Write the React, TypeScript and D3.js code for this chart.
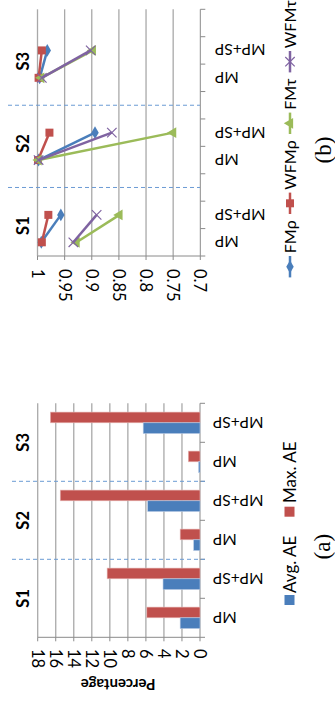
import React from 'react';
import * as d3 from 'd3';

// shared categories
const groups = ['S1', 'S2', 'S3'];
const methods = ['MP', 'MP+SP'];

// chart (a): absolute error, percentage
const avgAE = [2.2, 4.1, 0.7, 5.8, 0.15, 6.3];
const maxAE = [5.9, 10.3, 2.2, 15.5, 1.3, 16.6];
const aTicks = [0, 2, 4, 6, 8, 10, 12, 14, 16, 18];

// chart (b): correlation per series
const seriesNames = ['FMρ', 'WFMρ', 'FMτ', 'WFMτ'];
const fmRho = [0.993, 0.957, 0.998, 0.894, 0.996, 0.982];
const wfmRho = [0.992, 0.98, 0.999, 0.978, 0.998, 0.992];
const fmTau = [0.928, 0.849, 0.998, 0.75, 0.993, 0.898];
const wfmTau = [0.934, 0.891, 0.998, 0.863, 0.992, 0.902];
const bTicks = [1, 0.95, 0.9, 0.85, 0.8, 0.75, 0.7];

const FONT = "Lato, 'Open Sans', sans-serif";
const GRID = '#a9a9a9';
const AXIS = '#8a8a8a';
const DASH = '#6b9bd4';
const colors = ['#4a7ebb', '#c0504d', '#9bbb59', '#7f63a1'];
const symbols = [d3.symbolDiamond, d3.symbolSquare, d3.symbolTriangle, d3.symbolCross];

const aKeys = groups.flatMap(g => methods.map(m => g + '|' + m));
const bKeys = groups.flatMap(g => [...methods.map(m => g + '|' + m), g + '|gap']);

function ChartA() {
  const x = d3.scaleLinear().domain([0, 18]).range([200, 37.7]);
  const y = d3.scaleBand().domain(aKeys).range([637.3, 403.3]);
  const sub = d3.scaleBand().domain(['max', 'avg']).range([0, y.bandwidth()]).paddingOuter(0.82);
  const bottom = 637.3, top = 403.3;
  const boundaries = [...aKeys.map(k => y(k)!), bottom];
  return (
    <g>
      {aTicks.map(t => (
        <g key={t}>
          {t > 0 && <line x1={x(t)} x2={x(t)} y1={top} y2={bottom} stroke={GRID} strokeWidth={1.3} />}
          <line x1={x(t)} x2={x(t)} y1={bottom} y2={bottom + 4} stroke={AXIS} />
          <text transform={`rotate(90, ${x(t)}, 649)`} x={x(t)} y={649} fontSize={16.5}
            fontFamily={FONT} dominantBaseline="central" fill="#000">{t}</text>
        </g>
      ))}
      <line x1={37.7} x2={200} y1={bottom} y2={bottom} stroke={AXIS} />
      <line x1={200} x2={200} y1={top} y2={bottom} stroke={AXIS} />
      {boundaries.map((b, i) => (
        <line key={i} x1={200} x2={205} y1={b} y2={b} stroke={AXIS} />
      ))}
      {aKeys.map((k, i) => (
        <g key={k}>
          <rect x={x(maxAE[i])} y={y(k)! + sub('max')!} width={x(0) - x(maxAE[i])} height={sub.bandwidth()}
            fill={colors[1]} stroke="#e8b8b7" strokeWidth={0.6} />
          <rect x={x(avgAE[i])} y={y(k)! + sub('avg')!} width={x(0) - x(avgAE[i])} height={sub.bandwidth()}
            fill={colors[0]} stroke="#b5c8e3" strokeWidth={0.6} />
          <text transform={`rotate(180, 213, ${y(k)! + y.bandwidth() / 2})`} x={213} y={y(k)! + y.bandwidth() / 2}
            textAnchor="end" dominantBaseline="central" fontSize={15.5} fontFamily={FONT}>{k.split('|')[1]}</text>
        </g>
      ))}
      {[1, 2].map(g => (
        <line key={g} x1={12} x2={205} y1={y(groups[g] + '|MP')! + y.bandwidth()} y2={y(groups[g] + '|MP')! + y.bandwidth()}
          stroke={DASH} strokeDasharray="4,3" />
      ))}
      {groups.map(g => {
        const cy = y(g + '|MP')!;
        return (
          <text key={g} transform={`rotate(-90, 22.7, ${cy})`} x={22.7} y={cy} textAnchor="middle"
            dominantBaseline="central" fontSize={16.5} fontWeight="bold" fontFamily={FONT}>{g}</text>
        );
      })}
      <text transform="rotate(180, 118, 685)" x={118} y={685} textAnchor="middle" dominantBaseline="central"
        fontSize={15} fontWeight="bold" fontFamily={FONT}>Percentage</text>
      {/* legend */}
      <rect x={284.5} y={595} width={10} height={10} fill={colors[0]} />
      <text transform="rotate(-90, 289, 593)" x={289} y={593} dominantBaseline="central" fontSize={17} fontFamily={FONT}>Avg. AE</text>
      <rect x={284.5} y={506.7} width={10} height={10} fill={colors[1]} />
      <text transform="rotate(-90, 289, 503)" x={289} y={503} dominantBaseline="central" fontSize={17} fontFamily={FONT}>Max. AE</text>
      <text transform="rotate(-90, 323, 546.7)" x={323} y={546.7} textAnchor="middle" dominantBaseline="central"
        fontSize={23} fontFamily="'Liberation Serif', serif">(a)</text>
    </g>
  );
}

function Marker({ i, cx, cy, size }: { i: number; cx: number; cy: number; size: number }) {
  const sym = i === 3 ? d3.symbol(d3.symbolX, size) : d3.symbol(symbols[i], size);
  const rot = i === 2 ? -90 : 0;
  return (
    <path d={sym()!} transform={`translate(${cx},${cy}) rotate(${rot})`}
      fill={i === 3 ? 'none' : colors[i]} stroke={colors[i]} strokeWidth={i === 3 ? 1.2 : 0} />
  );
}

function ChartB() {
  const x = d3.scaleLinear().domain([0.7, 1]).range([200.3, 37.5]);
  const y = d3.scaleBand().domain(bKeys).range([256, 9.3]);
  const bottom = 256, top = 9.3;
  const series = [fmRho, wfmRho, fmTau, wfmTau];
  const sizes = [48, 64, 50, 60];
  const cy = (k: string) => y(k)! + y.bandwidth() / 2;
  const line = d3.line<[number, number]>().x(d => d[0]).y(d => d[1]);
  const boundaries = [...bKeys.map(k => y(k)!), bottom];
  const legendY = [266.7, 203.3, 123.3, 61.7];
  return (
    <g>
      {bTicks.map(t => (
        <g key={t}>
          {t > 0.7 && <line x1={x(t)} x2={x(t)} y1={top} y2={bottom} stroke={GRID} strokeWidth={1.3} />}
          <line x1={x(t)} x2={x(t)} y1={bottom} y2={bottom + 4} stroke={AXIS} />
          <text transform={`rotate(90, ${x(t)}, 269)`} x={x(t)} y={269} fontSize={16.5}
            fontFamily={FONT} dominantBaseline="central">{t}</text>
        </g>
      ))}
      <line x1={37.5} x2={200.3} y1={bottom} y2={bottom} stroke={AXIS} />
      <line x1={200.3} x2={200.3} y1={top} y2={bottom} stroke={AXIS} />
      {boundaries.map((b, i) => (
        <line key={i} x1={200.3} x2={205.3} y1={b} y2={b} stroke={AXIS} />
      ))}
      {groups.slice(0, 2).map(g => (
        <line key={g} x1={8} x2={200} y1={cy(g + '|gap')} y2={cy(g + '|gap')} stroke={DASH} strokeDasharray="4,3" />
      ))}
      {aKeys.map(k => (
        <text key={k} transform={`rotate(180, 215, ${cy(k)})`} x={215} y={cy(k)} textAnchor="end"
          dominantBaseline="central" fontSize={15.5} fontFamily={FONT}>{k.split('|')[1]}</text>
      ))}
      {series.map((vals, si) => (
        <g key={si}>
          {groups.map((g, gi) => {
            const pts: [number, number][] = methods.map((m, mi) => [x(vals[gi * 2 + mi]), cy(g + '|' + m)]);
            return (
              <g key={g}>
                <path d={line(pts)!} fill="none" stroke={colors[si]} strokeWidth={2.5} />
                {pts.map((p, pi) => <Marker key={pi} i={si} cx={p[0]} cy={p[1]} size={sizes[si]} />)}
              </g>
            );
          })}
        </g>
      ))}
      {groups.map(g => {
        const c = (cy(g + '|MP') + cy(g + '|MP+SP')) / 2 - 3;
        return (
          <text key={g} transform={`rotate(-90, 22.7, ${c})`} x={22.7} y={c} textAnchor="middle"
            dominantBaseline="central" fontSize={16.5} fontWeight="bold" fontFamily={FONT}>{g}</text>
        );
      })}
      {seriesNames.map((n, i) => (
        <g key={n}>
          <line x1={290} x2={290} y1={legendY[i] - 10.7} y2={legendY[i] + 10.7} stroke={colors[i]} strokeWidth={2.5} />
          <Marker i={i} cx={290} cy={legendY[i]} size={sizes[i]} />
          <text transform={`rotate(-90, 290, ${legendY[i] - 13.5})`} x={290} y={legendY[i] - 13.5}
            dominantBaseline="central" fontSize={16} fontFamily={FONT}>{n}</text>
        </g>
      ))}
      <text transform="rotate(-90, 323, 150)" x={323} y={150} textAnchor="middle" dominantBaseline="central"
        fontSize={23} fontFamily="'Liberation Serif', serif">(b)</text>
    </g>
  );
}

export default function App() {
  return (
    <svg width={335} height={701} style={{ position: 'absolute', left: 0, top: 0, background: '#fff' }}>
      <ChartB />
      <ChartA />
    </svg>
  );
}
